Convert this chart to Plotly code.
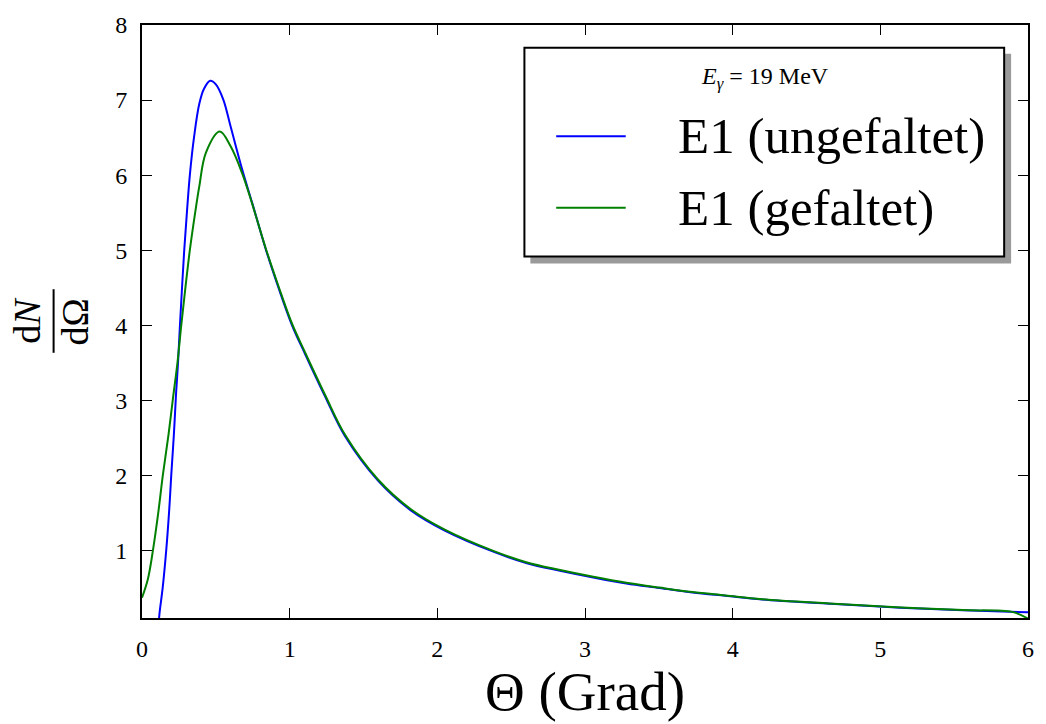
import plotly.graph_objects as go

# ---- data ----
theta_ungefaltet = [0.112, 0.119, 0.14, 0.164, 0.183, 0.198, 0.216, 0.231, 0.244, 0.257, 0.271, 0.286,
                    0.304, 0.324, 0.352, 0.388, 0.42, 0.462, 0.50, 0.55, 0.601, 0.679, 0.746, 0.837,
                    0.926, 1.016, 1.106, 1.240, 1.375, 1.598, 1.823, 2.047, 2.383, 2.607,
                    2.831, 3.056, 3.28, 3.504, 3.728, 3.952, 4.2, 4.656, 5.11, 5.56, 6.0]
dn_ungefaltet = [0.0, 0.17, 0.5, 1.0, 1.5, 2.0, 2.55, 3.1, 3.5, 4.0, 4.5, 5.0,
                 5.5, 6.0, 6.5, 6.95, 7.15, 7.256, 7.21, 7.01, 6.64, 6.07, 5.63, 5.02,
                 4.49, 4.00, 3.61, 3.05, 2.52, 1.93, 1.53, 1.268, 0.98, 0.83,
                 0.73, 0.64, 0.56, 0.50, 0.44, 0.395, 0.346, 0.29, 0.24, 0.203, 0.175]

theta_gefaltet = [0.0, 0.040, 0.074, 0.11, 0.141, 0.18, 0.208, 0.24, 0.266, 0.294, 0.324, 0.36,
                  0.388, 0.433, 0.527, 0.601, 0.679, 0.746, 0.837, 0.926, 1.016, 1.106, 1.240,
                  1.375, 1.598, 1.823, 2.047, 2.383, 2.607, 2.831, 3.056, 3.28, 3.504,
                  3.728, 3.952, 4.2, 4.656, 5.11, 5.56, 5.9, 6.0]
dn_gefaltet = [0.37, 0.62, 1.0, 1.5, 2.0, 2.55, 3.0, 3.5, 4.0, 4.5, 5.0, 5.5,
               5.85, 6.30, 6.58, 6.38, 6.02, 5.62, 5.03, 4.51, 4.02, 3.63, 3.07,
               2.54, 1.945, 1.545, 1.28, 0.99, 0.84, 0.74, 0.65, 0.57, 0.505,
               0.445, 0.40, 0.35, 0.293, 0.243, 0.205, 0.178, 0.09]

series_names = ["E1 (ungefaltet)", "E1 (gefaltet)"]
series_colors = ["#0000ff", "#008000"]
x_ticks = [0, 1, 2, 3, 4, 5, 6]
y_ticks = [1, 2, 3, 4, 5, 6, 7, 8]
legend_title = "<i>E<sub>γ</sub></i> = 19 MeV"

FONT = "Liberation Serif"
W, H = 1046, 724
L, R, T, B = 142, 1034, 21, 618  # plot area in pixels


def px(x):
    return (x - L) / (R - L)


def py(y):
    return (B - y) / (B - T)


fig = go.Figure()
fig.add_trace(go.Scatter(x=theta_ungefaltet, y=dn_ungefaltet, mode="lines", name=series_names[0],
                         line=dict(color=series_colors[0], width=2, shape="spline", smoothing=1.0),
                         showlegend=False))
fig.add_trace(go.Scatter(x=theta_gefaltet, y=dn_gefaltet, mode="lines", name=series_names[1],
                         line=dict(color=series_colors[1], width=2, shape="spline", smoothing=1.0),
                         showlegend=False))

axis_common = dict(showline=True, linecolor="black", linewidth=2, mirror="allticks",
                   ticks="inside", ticklen=10, tickwidth=1.2, tickcolor="black",
                   showgrid=False, zeroline=False,
                   tickfont=dict(family=FONT, size=24, color="black"))

fig.update_xaxes(range=[0, 6], tickvals=x_ticks, ticklabelstandoff=8, **axis_common)
fig.update_yaxes(range=[0.1, 8], tickvals=y_ticks, ticklabelstandoff=8, **axis_common)

shapes = []
# legend shadow and box
shapes.append(dict(type="rect", xref="paper", yref="paper", x0=px(533), x1=px(1017), y0=py(261), y1=py(50),
                   fillcolor="#9a9a9a", line=dict(width=0), layer="above"))
shapes.append(dict(type="rect", xref="paper", yref="paper", x0=px(527), x1=px(1010), y0=py(254), y1=py(44),
                   fillcolor="white", line=dict(color="black", width=2), layer="above"))
# legend lines
for i, yy in enumerate([133, 205]):
    shapes.append(dict(type="line", xref="paper", yref="paper", x0=px(559), x1=px(629), y0=py(yy), y1=py(yy),
                       line=dict(color=series_colors[i], width=2), layer="above"))
# fraction bar of y label
shapes.append(dict(type="line", xref="paper", yref="paper", x0=px(53), x1=px(53), y0=py(351), y1=py(287),
                   line=dict(color="black", width=2)))

annotations = []
annotations.append(dict(text=legend_title, xref="paper", yref="paper", x=px(769), y=py(74),
                        showarrow=False, xanchor="center", yanchor="middle",
                        font=dict(family=FONT, size=24, color="black")))
for i, yy in enumerate([133, 205]):
    annotations.append(dict(text=series_names[i], xref="paper", yref="paper", x=px(680), y=py(yy),
                            showarrow=False, xanchor="left", yanchor="middle",
                            font=dict(family=FONT, size=51, color="black")))
# axis titles
annotations.append(dict(text="Θ (Grad)", xref="paper", yref="paper", x=px(588), y=py(692),
                        showarrow=False, xanchor="center", yanchor="middle",
                        font=dict(family=FONT, size=55, color="black")))
annotations.append(dict(text="d<i>N</i>", xref="paper", yref="paper", x=px(26), y=py(318),
                        showarrow=False, xanchor="center", yanchor="middle", textangle=-90,
                        font=dict(family=FONT, size=38, color="black")))
annotations.append(dict(text="dΩ", xref="paper", yref="paper", x=px(75), y=py(320),
                        showarrow=False, xanchor="center", yanchor="middle", textangle=-90,
                        font=dict(family=FONT, size=38, color="black")))

fig.update_layout(width=W, height=H, margin=dict(l=L, r=W - R, t=T, b=H - B),
                  plot_bgcolor="white", paper_bgcolor="white",
                  shapes=shapes, annotations=annotations, showlegend=False)

fig.write_html("out.html")
